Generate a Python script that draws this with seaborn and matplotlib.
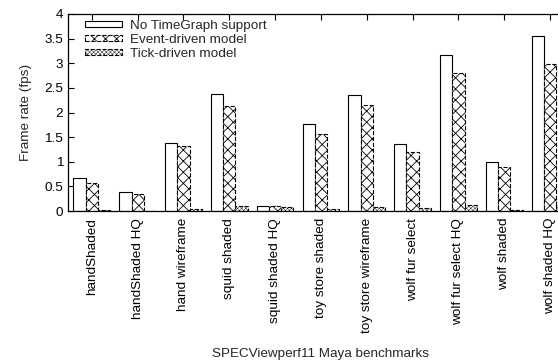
import matplotlib
matplotlib.use("Agg")
import matplotlib.pyplot as plt
import seaborn as sns
import pandas as pd
from matplotlib.ticker import FormatStrFormatter

benchmarks = ["handShaded", "handShaded HQ", "hand wireframe", "squid shaded",
              "squid shaded HQ", "toy store shaded", "toy store wireframe",
              "wolf fur select", "wolf fur select HQ", "wolf shaded", "wolf shaded HQ"]
series = ["No TimeGraph support", "Event-driven model", "Tick-driven model"]
no_tg = [0.66, 0.38, 1.39, 2.38, 0.11, 1.76, 2.35, 1.37, 3.16, 0.99, 3.56]
event = [0.56, 0.34, 1.31, 2.13, 0.10, 1.56, 2.15, 1.20, 2.80, 0.89, 2.98]
tick = [0.02, 0.01, 0.04, 0.11, 0.08, 0.05, 0.08, 0.06, 0.13, 0.03, 0.12]

rows = []
for vals, s in zip([no_tg, event, tick], series):
    for b, v in zip(benchmarks, vals):
        rows.append({"bench": b, "fps": v, "model": s})
df = pd.DataFrame(rows)

sns.set_theme(style="ticks")
plt.rcParams['font.family'] = ['Liberation Sans', 'DejaVu Sans']
plt.rcParams['hatch.linewidth'] = 0.6
FS = 9.7

fig = plt.figure(figsize=(5.58, 3.62), dpi=100)
ax = fig.add_axes([68/558, 151/362, 505/558, 197/362])

sns.barplot(data=df, x="bench", y="fps", hue="model", order=benchmarks,
            hue_order=series, palette=["white"] * 3, width=0.8,
            saturation=1, edgecolor="black", linewidth=0.8, ax=ax)

hatches = [None, "xxx", "xxxxxxxx"]
styles = ["-", "--", "--"]
hlw = [0.6, 0.6, 0.3]

def style_patch(p, h, ls, lw):
    p.set_facecolor("white")
    p.set_edgecolor("black")
    p.set_linestyle(ls)
    if h:
        p.set_hatch(h)
        if hasattr(p, "set_hatch_linewidth"):
            p.set_hatch_linewidth(lw)

for cont, h, ls, lw in zip(ax.containers, hatches, styles, hlw):
    for p in cont:
        style_patch(p, h, ls, lw)

ax.set_xlim(-0.52, 10.5)
ax.set_ylim(0, 4)
ax.set_yticks([0, 0.5, 1, 1.5, 2, 2.5, 3, 3.5, 4])
ax.yaxis.set_major_formatter(FormatStrFormatter('%g'))
ax.tick_params(axis='both', direction='in', length=4, width=0.8, labelsize=FS,
               top=True, right=True, colors='black')
ax.tick_params(axis='x', pad=5)
for lab in ax.get_xticklabels():
    lab.set_rotation(90)
ax.set_xlabel("SPECViewperf11 Maya benchmarks", fontsize=FS, labelpad=11)
ax.set_ylabel("Frame rate (fps)", fontsize=FS, labelpad=9)
for sp in ax.spines.values():
    sp.set_visible(True)
    sp.set_color("black")
    sp.set_linewidth(0.9)

leg = ax.legend(loc="upper left", frameon=False, fontsize=FS,
                handlelength=2.7, handleheight=0.35, labelspacing=0.15,
                borderaxespad=0.0, handletextpad=0.6, borderpad=0.45,
                bbox_to_anchor=(0.022, 1.0))
for hnd, h, ls, lw in zip(leg.legend_handles, hatches, styles, hlw):
    style_patch(hnd, h, ls, lw)

fig.savefig("out.png", dpi=100)
